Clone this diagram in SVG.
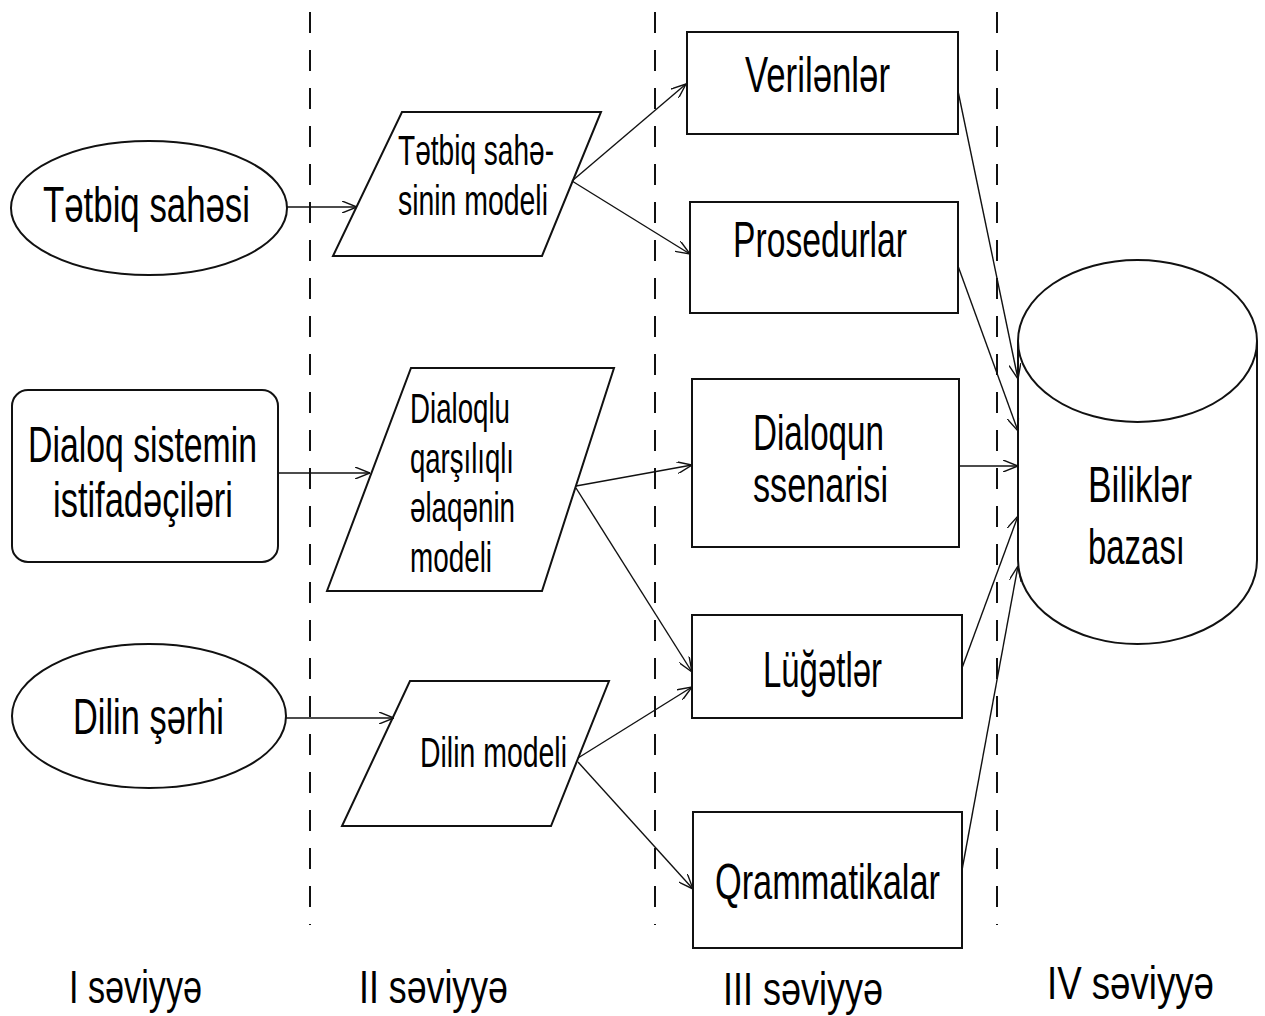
<svg xmlns="http://www.w3.org/2000/svg" width="1265" height="1016" viewBox="0 0 1265 1016">
<style>
.shape{fill:#fff;stroke:#111;stroke-width:2}
.lbl{font-family:"Liberation Sans",Arial,sans-serif;fill:#000;font-size:50px}
.sm{font-size:42px}
.lv{font-size:46px}
.conn line{stroke:#111;stroke-width:1.4;marker-end:url(#arr)}
.dash{stroke:#111;stroke-width:2;stroke-dasharray:21 17}
</style>
<defs>
<marker id="arr" viewBox="0 0 15 12" refX="15" refY="6" markerWidth="15" markerHeight="12" orient="auto" markerUnits="userSpaceOnUse">
<path d="M0,0 L15,6 L0,12" fill="none" stroke="#111" stroke-width="1.4"/>
</marker>
</defs>
<rect width="1265" height="1016" fill="#fff"/>
<g id="separators">
<line class="dash" x1="310" y1="12" x2="310" y2="925"/>
<line class="dash" x1="655" y1="12" x2="655" y2="925"/>
<line class="dash" x1="997" y1="12" x2="997" y2="925"/>
</g>
<g id="n-tetbiq-sahesi">
<ellipse class="shape" cx="149" cy="208" rx="138" ry="67"/>
<text class="lbl" x="43" y="222" textLength="207" lengthAdjust="spacingAndGlyphs">Tətbiq sahəsi</text>
</g>
<g id="n-dialoq-istifadeciler">
<rect class="shape" x="12" y="390" width="266" height="172" rx="16"/>
<text class="lbl" x="28" y="462" textLength="229" lengthAdjust="spacingAndGlyphs">Dialoq sistemin</text>
<text class="lbl" x="53" y="517" textLength="180" lengthAdjust="spacingAndGlyphs">istifadəçiləri</text>
</g>
<g id="n-dilin-serhi">
<ellipse class="shape" cx="149" cy="716" rx="137" ry="72"/>
<text class="lbl" x="73" y="734" textLength="151" lengthAdjust="spacingAndGlyphs">Dilin şərhi</text>
</g>
<g id="n-tetbiq-modeli">
<polygon class="shape" points="402,112 601,112 542,256 333,256"/>
<text class="lbl sm" x="398" y="165" textLength="156" lengthAdjust="spacingAndGlyphs">Tətbiq sahə-</text>
<text class="lbl sm" x="398" y="215" textLength="150" lengthAdjust="spacingAndGlyphs">sinin modeli</text>
</g>
<g id="n-dialoq-modeli">
<polygon class="shape" points="411,368 614,368 542,591 327,591"/>
<text class="lbl sm" x="410" y="423" textLength="100" lengthAdjust="spacingAndGlyphs">Dialoqlu</text>
<text class="lbl sm" x="410" y="473" textLength="104" lengthAdjust="spacingAndGlyphs">qarşılıqlı</text>
<text class="lbl sm" x="410" y="522" textLength="105" lengthAdjust="spacingAndGlyphs">əlaqənin</text>
<text class="lbl sm" x="410" y="572" textLength="82" lengthAdjust="spacingAndGlyphs">modeli</text>
</g>
<g id="n-dilin-modeli">
<polygon class="shape" points="410,681 609,681 551,826 342,826"/>
<text class="lbl sm" x="420" y="767" textLength="147" lengthAdjust="spacingAndGlyphs">Dilin modeli</text>
</g>
<g id="n-verilenler">
<rect class="shape" x="687" y="32" width="271" height="102"/>
<text class="lbl" x="745" y="92" textLength="145" lengthAdjust="spacingAndGlyphs">Verilənlər</text>
</g>
<g id="n-prosedurlar">
<rect class="shape" x="690" y="202" width="268" height="111"/>
<text class="lbl" x="733" y="257" textLength="174" lengthAdjust="spacingAndGlyphs">Prosedurlar</text>
</g>
<g id="n-dialoqun-ssenarisi">
<rect class="shape" x="692" y="379" width="267" height="168"/>
<text class="lbl" x="753" y="450" textLength="131" lengthAdjust="spacingAndGlyphs">Dialoqun</text>
<text class="lbl" x="753" y="502" textLength="135" lengthAdjust="spacingAndGlyphs">ssenarisi</text>
</g>
<g id="n-lugetler">
<rect class="shape" x="692" y="615" width="270" height="103"/>
<text class="lbl" x="763" y="687" textLength="119" lengthAdjust="spacingAndGlyphs">Lüğətlər</text>
</g>
<g id="n-qrammatikalar">
<rect class="shape" x="693" y="812" width="269" height="136"/>
<text class="lbl" x="715" y="899" textLength="225" lengthAdjust="spacingAndGlyphs">Qrammatikalar</text>
</g>
<g id="n-bilikler-bazasi">
<path class="shape" d="M1018,341 L1018,560 A119.5,84 0 0 0 1257,560 L1257,341"/>
<ellipse class="shape" cx="1137.5" cy="341" rx="119.5" ry="81"/>
<text class="lbl" x="1088" y="502" textLength="104" lengthAdjust="spacingAndGlyphs">Biliklər</text>
<text class="lbl" x="1088" y="564" textLength="97" lengthAdjust="spacingAndGlyphs">bazası</text>
</g>
<g id="connectors" class="conn">
<line x1="287" y1="207" x2="357" y2="207"/>
<line x1="572" y1="181" x2="686" y2="84"/>
<line x1="572" y1="181" x2="690" y2="254"/>
<line x1="278" y1="473" x2="370" y2="473"/>
<line x1="576" y1="486" x2="692" y2="465"/>
<line x1="576" y1="488" x2="692" y2="672"/>
<line x1="286" y1="718" x2="394" y2="718"/>
<line x1="578" y1="758" x2="692" y2="687"/>
<line x1="578" y1="762" x2="693" y2="889"/>
<line x1="958" y1="91" x2="1018" y2="379"/>
<line x1="958" y1="266" x2="1018" y2="431"/>
<line x1="959" y1="466" x2="1018" y2="466"/>
<line x1="962" y1="668" x2="1018" y2="516"/>
<line x1="962" y1="870" x2="1018" y2="566"/>
</g>
<g id="levels">
<text class="lbl lv" x="69" y="1003" textLength="133" lengthAdjust="spacingAndGlyphs">I səviyyə</text>
<text class="lbl lv" x="359" y="1003" textLength="149" lengthAdjust="spacingAndGlyphs">II səviyyə</text>
<text class="lbl lv" x="723" y="1005" textLength="160" lengthAdjust="spacingAndGlyphs">III  səviyyə</text>
<text class="lbl lv" x="1047" y="999" textLength="167" lengthAdjust="spacingAndGlyphs">IV  səviyyə</text>
</g>
</svg>
